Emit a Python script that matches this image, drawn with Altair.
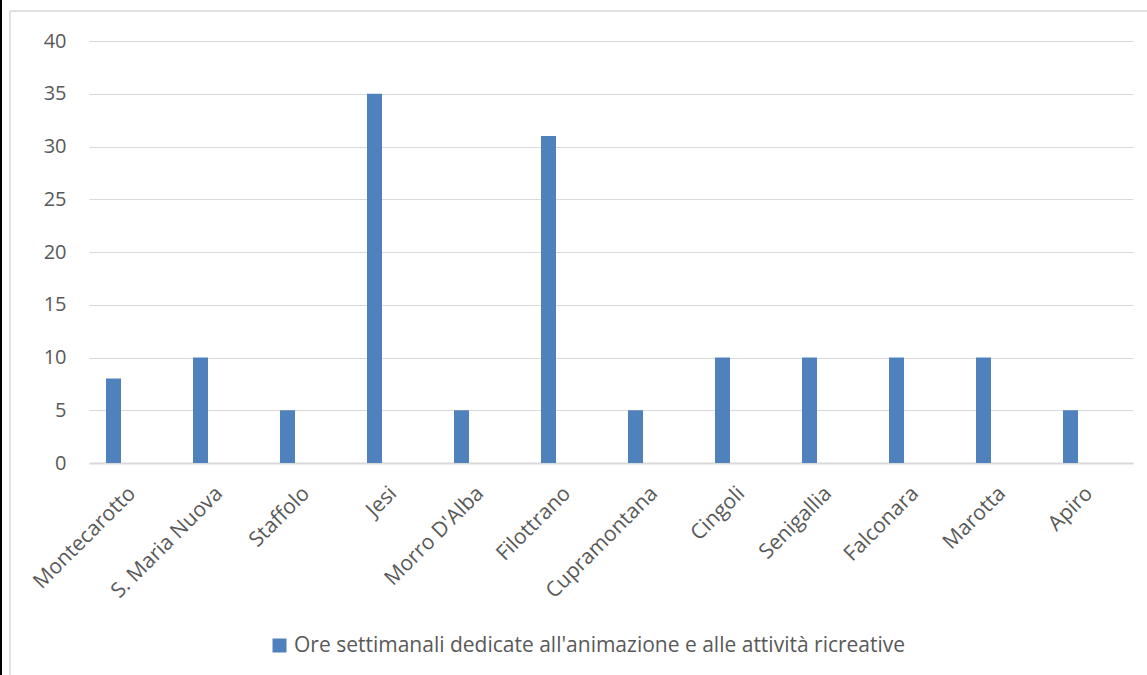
import altair as alt
import pandas as pd

comuni = ["Montecarotto", "S. Maria Nuova", "Staffolo", "Jesi", "Morro D'Alba",
          "Filottrano", "Cupramontana", "Cingoli", "Senigallia", "Falconara",
          "Marotta", "Apiro"]
ore = [8, 10, 5, 35, 5, 31, 5, 10, 10, 10, 10, 5]
serie = "Ore settimanali dedicate all'animazione e alle attività ricreative"
y_ticks = [0, 5, 10, 15, 20, 25, 30, 35, 40]

df = pd.DataFrame({"Comune": comuni, "Ore": ore, "Serie": [serie] * len(comuni)})
FONT = "Open Sans"
TXT = "#595959"
GRID = "#d9d9d9"

bars = alt.Chart(df).mark_bar(width=15, xOffset=-19, color="#4F81BD").encode(
    x=alt.X("Comune:N", sort=comuni, title=None,
            scale=alt.Scale(paddingInner=0, paddingOuter=0),
            axis=alt.Axis(labelAngle=-45, labelAlign="right", labelBaseline="middle",
                          labelPadding=27, ticks=False, domainColor=GRID, domainWidth=2,
                          grid=False, labelFont=FONT, labelFontSize=21, labelColor=TXT,
                          labelLimit=0)),
    y=alt.Y("Ore:Q", title=None, scale=alt.Scale(domain=[0, 40], nice=False),
            axis=alt.Axis(values=y_ticks, ticks=False, domain=False, gridColor=GRID,
                          gridWidth=1, labelPadding=23, labelFont=FONT, labelFontSize=20,
                          labelColor=TXT)),
    color=alt.Color("Serie:N", scale=alt.Scale(range=["#4F81BD"]),
                    legend=alt.Legend(title=None, orient="none", legendX=180, legendY=594,
                                      symbolType="square", symbolSize=196,
                                      symbolStrokeWidth=0, labelFont=FONT,
                                      labelFontSize=21, labelColor=TXT,
                                      labelOffset=4, labelLimit=0)),
)

frame_df = pd.DataFrame({"a": [0]})
frame_left = alt.Chart(frame_df).mark_rule(color=GRID, strokeWidth=1.5).encode(
    x=alt.value(-79), y=alt.value(-30), y2=alt.value(634))
frame_top = alt.Chart(frame_df).mark_rule(color=GRID, strokeWidth=1.5).encode(
    x=alt.value(-79), x2=alt.value(1058), y=alt.value(-30))
black_edge = alt.Chart(frame_df).mark_rule(color="#000000", strokeWidth=2).encode(
    x=alt.value(-88), y=alt.value(-41), y2=alt.value(634))

chart = alt.layer(frame_left, frame_top, black_edge, bars).properties(
    width=1044, height=422,
    autosize=alt.AutoSizeParams(type="none"),
    padding={"left": 89, "top": 41, "right": 14, "bottom": 212},
    background="white",
).configure_view(stroke=None)

chart.save("out.html", embed_options={"renderer": "svg", "actions": False})
